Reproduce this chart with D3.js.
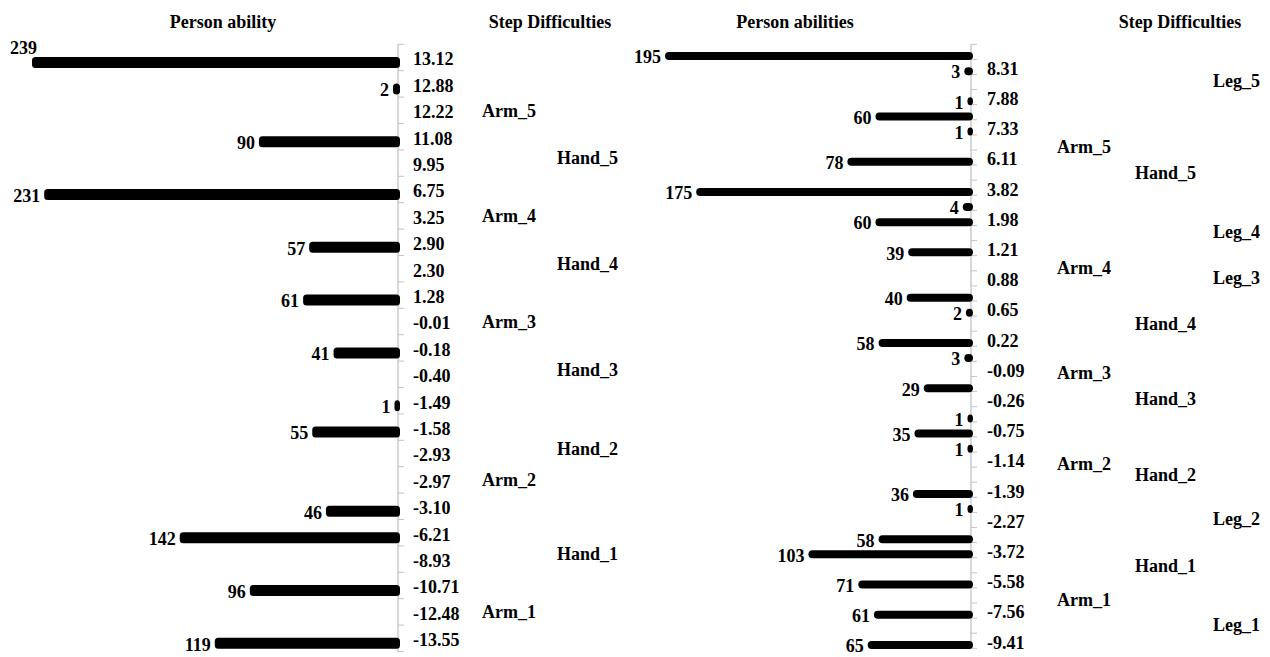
<!DOCTYPE html>
<html>
<head>
<meta charset="utf-8">
<script src="https://cdn.jsdelivr.net/npm/d3@7"></script>
<style>
  body { margin: 0; background: #fff; }
  svg text { font-family: "Liberation Serif", "Times New Roman", serif; font-weight: bold; font-size: 18px; fill: #000; }
</style>
</head>
<body>
<svg id="chart" width="1270" height="657"></svg>
<script>
// left map: one row per measure, top to bottom
const leftTicks = ['13.12', '12.88', '12.22', '11.08', '9.95', '6.75', '3.25', '2.90', '2.30', '1.28', '-0.01', '-0.18',
  '-0.40', '-1.49', '-1.58', '-2.93', '-2.97', '-3.10', '-6.21', '-8.93', '-10.71', '-12.48', '-13.55'];
const leftCounts = [239, 2, null, 90, null, 231, null, 57, null, 61, null, 41,
  null, 1, 55, null, null, 46, 142, null, 96, null, 119];
const leftSteps = [null, null, 'Arm_5', null, 'Hand_5', null, 'Arm_4', null, 'Hand_4', null, 'Arm_3', null,
  'Hand_3', null, null, 'Hand_2', 'Arm_2', null, null, 'Hand_1', null, 'Arm_1', null];

// right map: 40 rows, tick labels shown on every second row (rows 1, 3, 5 ...)
const rightTicks = ['8.31', '7.88', '7.33', '6.11', '3.82', '1.98', '1.21', '0.88', '0.65', '0.22',
  '-0.09', '-0.26', '-0.75', '-1.14', '-1.39', '-2.27', '-3.72', '-5.58', '-7.56', '-9.41'];
const rightCounts = [195, 3, null, 1, 60, 1, null, 78, null, 175,
  4, 60, null, 39, null, null, 40, 2, null, 58,
  3, null, 29, null, 1, 35, 1, null, null, 36,
  1, null, 58, 103, null, 71, null, 61, null, 65];
const rightSteps = [null, null, 'Leg_5', null, null, null, 'Arm_5', null, 'Hand_5', null,
  null, null, 'Leg_4', null, 'Arm_4', 'Leg_3', null, null, 'Hand_4', null,
  null, 'Arm_3', null, 'Hand_3', null, null, null, 'Arm_2', 'Hand_2', null,
  null, 'Leg_2', null, null, 'Hand_1', null, 'Arm_1', null, 'Leg_1', null];

const svg = d3.select('#chart');

function drawPanel(opt) {
  const n = opt.counts.length;
  const y = d3.scaleBand().domain(d3.range(n)).range([44.3, opt.bottom]);
  const x = d3.scaleLinear().domain([0, d3.max(opt.counts)]).range([0, opt.maxLen]);
  const g = svg.append('g');

  // titles
  g.append('text').attr('x', opt.titleX).attr('y', 28).attr('text-anchor', 'middle').text(opt.title);
  g.append('text').attr('x', opt.stepTitleX).attr('y', 28).attr('text-anchor', 'middle').text('Step Difficulties');

  // axis line + small ticks at row boundaries
  g.append('line')
    .attr('x1', opt.axisX).attr('x2', opt.axisX)
    .attr('y1', y.range()[0]).attr('y2', y.range()[1] + 1)
    .attr('stroke', '#c4c4c4').attr('stroke-width', 1.3);
  g.selectAll('.tk').data(d3.range(n + 1)).enter().append('line')
    .attr('x1', opt.axisX).attr('x2', opt.axisX + 6)
    .attr('y1', d => y.range()[0] + d * y.step())
    .attr('y2', d => y.range()[0] + d * y.step())
    .attr('stroke', '#c4c4c4').attr('stroke-width', 1);

  // measure labels
  g.selectAll('.lab').data(opt.ticks).enter().append('text')
    .attr('x', opt.axisX + opt.labelDx)
    .attr('y', (d, i) => y(opt.tickRow(i)) + y.bandwidth() / 2 + opt.labelDy)
    .attr('dy', '0.35em')
    .text(d => d);

  // person bars
  const rows = opt.counts.map((v, i) => ({ v, i })).filter(d => d.v != null);
  const barY = d => y(d.i) + y.bandwidth() / 2 + opt.barDy;
  const barLeft = d => opt.axisX + 2 - (x(d.v) + 4);

  g.selectAll('.bar').data(rows).enter().append('rect')
    .attr('x', barLeft)
    .attr('y', d => barY(d) - opt.barH / 2)
    .attr('width', d => x(d.v) + 4)
    .attr('height', opt.barH)
    .attr('rx', opt.barR).attr('ry', opt.barR)
    .attr('fill', '#000');

  g.selectAll('.cnt').data(rows).enter().append('text')
    .attr('text-anchor', 'end')
    .attr('x', d => barLeft(d) < 40 ? barLeft(d) + 5 : barLeft(d) - 4)
    .attr('y', d => barLeft(d) < 40 ? barY(d) - 15 : barY(d) + 1)
    .attr('dy', '0.35em')
    .text(d => d.v);

  // step difficulty labels, one column per item
  const steps = opt.steps.map((s, i) => ({ s, i })).filter(d => d.s);
  g.selectAll('.step').data(steps).enter().append('text')
    .attr('x', d => opt.stepCols[d.s.split('_')[0]].x)
    .attr('y', d => y(d.i) + y.bandwidth() / 2 + opt.stepCols[d.s.split('_')[0]].dy)
    .attr('dy', '0.35em')
    .text(d => d.s);
}

drawPanel({
  title: 'Person ability', titleX: 223, stepTitleX: 550,
  counts: leftCounts, steps: leftSteps, ticks: leftTicks,
  tickRow: i => i,
  bottom: 651.5, axisX: 398, maxLen: 364,
  barH: 11, barR: 3.5, barDy: 5,
  labelDx: 15, labelDy: 1.5,
  stepCols: { Arm: { x: 482, dy: 0 }, Hand: { x: 557, dy: -5 } }
});

drawPanel({
  title: 'Person abilities', titleX: 795, stepTitleX: 1180,
  counts: rightCounts, steps: rightSteps, ticks: rightTicks,
  tickRow: i => i * 2 + 1,
  bottom: 648.3, axisX: 971, maxLen: 304,
  barH: 8, barR: 4, barDy: 4.2,
  labelDx: 16, labelDy: 1.5,
  stepCols: { Arm: { x: 1057, dy: 4 }, Hand: { x: 1135, dy: 0 }, Leg: { x: 1213, dy: -1 } }
});
</script>
</body>
</html>
